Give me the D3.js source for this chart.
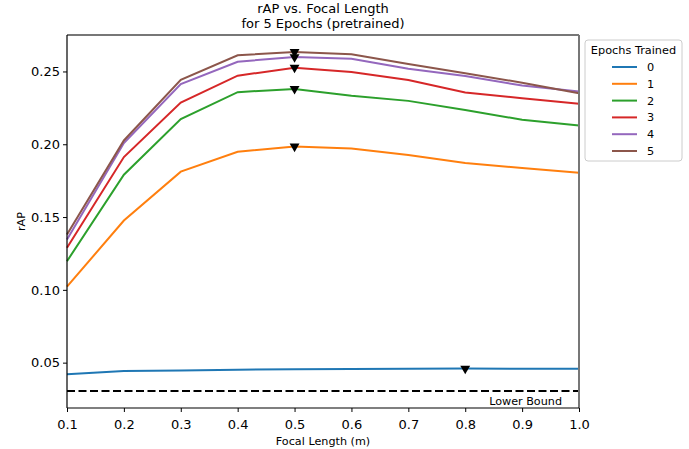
<!DOCTYPE html>
<html>
<head>
<meta charset="utf-8">
<script src="https://cdn.jsdelivr.net/npm/d3@7"></script>
<style>
  body { margin: 0; background: #fff; }
  text { font-family: "DejaVu Sans", sans-serif; fill: #000; }
</style>
</head>
<body>
<script>
// data
var focalLengths = [0.1, 0.2, 0.3, 0.4, 0.5, 0.6, 0.7, 0.8, 0.9, 1.0];
var epochLabels = ["0", "1", "2", "3", "4", "5"];
var rapEpoch0 = [0.0421, 0.0443, 0.0446, 0.0451, 0.0455, 0.0457, 0.0458, 0.0459, 0.0458, 0.0458];
var rapEpoch1 = [0.1022, 0.1476, 0.1812, 0.1949, 0.1985, 0.1971, 0.1926, 0.1871, 0.1837, 0.1805];
var rapEpoch2 = [0.1197, 0.1791, 0.2173, 0.2358, 0.2380, 0.2334, 0.2298, 0.2236, 0.2168, 0.2129];
var rapEpoch3 = [0.1289, 0.1912, 0.2286, 0.2471, 0.2526, 0.2497, 0.2442, 0.2355, 0.2316, 0.2279];
var rapEpoch4 = [0.1346, 0.2008, 0.2414, 0.2567, 0.2599, 0.2588, 0.2519, 0.2469, 0.2403, 0.2362];
var rapEpoch5 = [0.1380, 0.2026, 0.2442, 0.2611, 0.2634, 0.2618, 0.2551, 0.2488, 0.2423, 0.2351];
var lowerBound = 0.0305;
var xTicks = [0.1, 0.2, 0.3, 0.4, 0.5, 0.6, 0.7, 0.8, 0.9, 1.0];
var yTicks = [0.05, 0.10, 0.15, 0.20, 0.25];

var series = [rapEpoch0, rapEpoch1, rapEpoch2, rapEpoch3, rapEpoch4, rapEpoch5];
var colors = ["#1f77b4", "#ff7f0e", "#2ca02c", "#d62728", "#9467bd", "#8c564b"];

var w = 689, h = 449;
var axLeft = 67, axRight = 579, axTop = 35, axBottom = 408;

var svg = d3.select("body").append("svg")
    .attr("width", w)
    .attr("height", h);

// matplotlib style 5% margins
var allVals = d3.merge(series).concat([lowerBound]);
var yMin = d3.min(allVals), yMax = d3.max(allVals);
var pad = (yMax - yMin) * 0.05;

var x = d3.scaleLinear().domain([0.1, 1.0]).range([axLeft, axRight]);
var y = d3.scaleLinear().domain([yMin - pad, yMax + pad]).range([axBottom, axTop]);

var plot = svg.append("g");

// lower bound
plot.append("line")
    .attr("x1", x(0.1)).attr("x2", x(1.0))
    .attr("y1", y(lowerBound)).attr("y2", y(lowerBound))
    .style("stroke", "#000")
    .style("stroke-width", 2)
    .style("stroke-dasharray", "8,3.5");

plot.append("text")
    .attr("x", 562)
    .attr("y", y(lowerBound) + 14)
    .attr("text-anchor", "end")
    .attr("font-size", "11.2px")
    .text("Lower Bound");

var line = d3.line()
    .x((d, i) => x(focalLengths[i]))
    .y(d => y(d));

series.forEach((s, k) => {
    plot.append("path")
        .attr("d", line(s))
        .style("fill", "none")
        .style("stroke", colors[k])
        .style("stroke-width", 2);
});

// max markers
var tri = d3.symbol().type(d3.symbolTriangle).size(42);
series.forEach((s, k) => {
    var i = d3.maxIndex(s);
    plot.append("path")
        .attr("d", tri())
        .attr("transform", "translate(" + x(focalLengths[i]) + "," + y(s[i]) + ") rotate(180)")
        .style("fill", "#000");
});

// axes
var xAxis = d3.axisBottom(x).tickValues(xTicks).tickSize(4).tickFormat(d3.format(".1f"));
var yAxis = d3.axisLeft(y).tickValues(yTicks).tickSize(4).tickFormat(d3.format(".2f"));

var gx = svg.append("g")
    .attr("transform", "translate(0," + axBottom + ")")
    .call(xAxis);
gx.select(".domain").remove();
gx.selectAll("text").attr("font-size", "13px").attr("y", 21).attr("dy", 0).style("font-family", "DejaVu Sans");
gx.selectAll("line").style("stroke", "#000");

var gy = svg.append("g")
    .attr("transform", "translate(" + axLeft + ",0)")
    .call(yAxis);
gy.select(".domain").remove();
gy.selectAll("text").attr("font-size", "13px").style("font-family", "DejaVu Sans");
gy.selectAll("line").style("stroke", "#000");

// frame
svg.append("line").attr("x1", axLeft).attr("x2", axRight).attr("y1", axTop).attr("y2", axTop)
    .style("stroke", "#777").style("stroke-width", 2);
svg.append("line").attr("x1", axRight).attr("x2", axRight).attr("y1", axTop).attr("y2", axBottom)
    .style("stroke", "#777").style("stroke-width", 2);
svg.append("line").attr("x1", axLeft).attr("x2", axLeft).attr("y1", axTop).attr("y2", axBottom)
    .style("stroke", "#000").style("stroke-width", 1.2);
svg.append("line").attr("x1", axLeft).attr("x2", axRight).attr("y1", axBottom).attr("y2", axBottom)
    .style("stroke", "#000").style("stroke-width", 1.2);

// titles
svg.append("text").attr("x", (axLeft + axRight) / 2).attr("y", 12.5)
    .attr("text-anchor", "middle").attr("font-size", "13px")
    .text("rAP vs. Focal Length");
svg.append("text").attr("x", (axLeft + axRight) / 2).attr("y", 28)
    .attr("text-anchor", "middle").attr("font-size", "13px")
    .text("for 5 Epochs (pretrained)");

svg.append("text").attr("x", (axLeft + axRight) / 2).attr("y", 445)
    .attr("text-anchor", "middle").attr("font-size", "11.2px")
    .text("Focal Length (m)");

svg.append("text")
    .attr("transform", "translate(25," + ((axTop + axBottom) / 2) + ") rotate(-90)")
    .attr("text-anchor", "middle").attr("font-size", "11.2px")
    .text("rAP");

// legend
var legend = svg.append("g").attr("transform", "translate(585, 40)");
legend.append("rect")
    .attr("width", 97).attr("height", 121)
    .attr("rx", 3)
    .style("fill", "#fff")
    .style("stroke", "#ccc");
legend.append("text")
    .attr("x", 48.5).attr("y", 14)
    .attr("text-anchor", "middle").attr("font-size", "11.3px")
    .text("Epochs Trained");
epochLabels.forEach((lab, k) => {
    var yy = 27 + k * 16.8;
    legend.append("line")
        .attr("x1", 27).attr("x2", 52)
        .attr("y1", yy).attr("y2", yy)
        .style("stroke", colors[k]).style("stroke-width", 2);
    legend.append("text")
        .attr("x", 62).attr("y", yy + 4)
        .attr("font-size", "11.3px")
        .text(lab);
});
</script>
</body>
</html>
